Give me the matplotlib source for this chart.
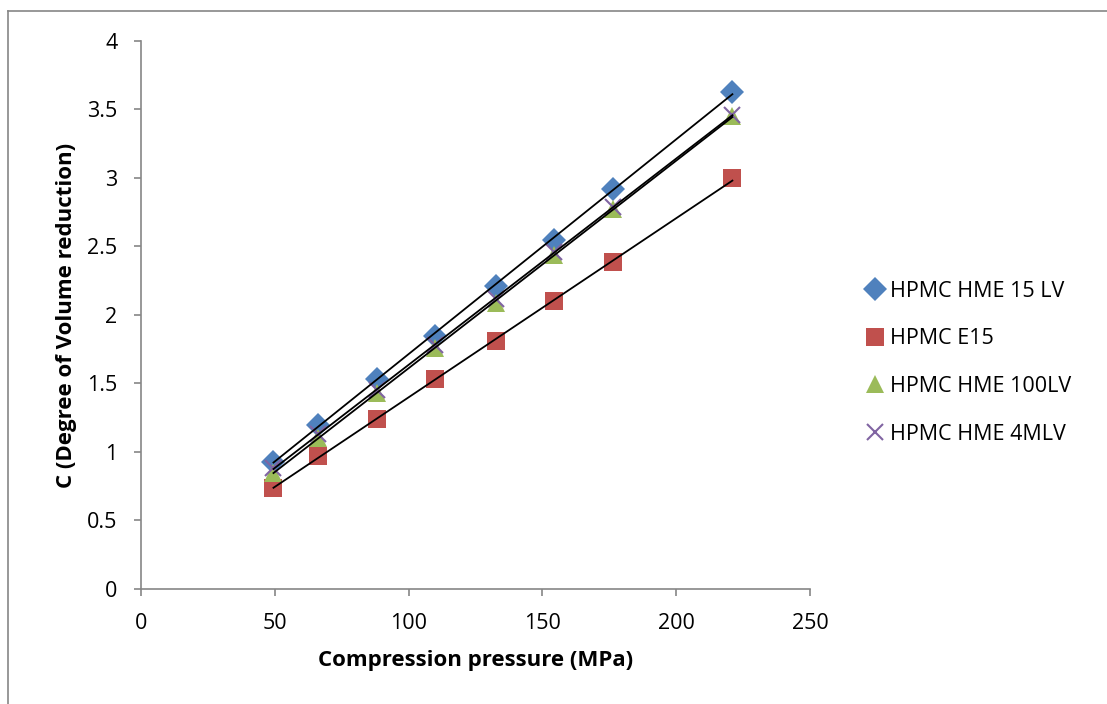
import numpy as np
import matplotlib
matplotlib.use("Agg")
import matplotlib.pyplot as plt
from matplotlib.lines import Line2D

plt.rcParams["font.family"] = ["Open Sans", "DejaVu Sans"]

# compression pressure (MPa)
pressure = [49.5, 66, 88, 110, 132.5, 154.5, 176.5, 221]

hme_15lv = [0.93, 1.20, 1.53, 1.85, 2.21, 2.55, 2.92, 3.63]
e15 = [0.74, 0.97, 1.24, 1.53, 1.81, 2.10, 2.39, 3.00]
hme_100lv = [0.85, 1.10, 1.43, 1.76, 2.09, 2.44, 2.77, 3.45]
hme_4mlv = [0.88, 1.13, 1.45, 1.78, 2.12, 2.46, 2.79, 3.46]

series = [
    ("HPMC HME 15 LV", hme_15lv, "D", "#4F81BD", 12),
    ("HPMC E15", e15, "s", "#C0504D", 13.5),
    ("HPMC HME 100LV", hme_100lv, "^", "#9BBB59", 13),
    ("HPMC HME 4MLV", hme_4mlv, "x", "#8064A2", 11),
]

fig = plt.figure(figsize=(11.07, 7.04), dpi=100)
ax = fig.add_axes([0.1274, 0.1634, 0.6043, 0.7784])

x = np.array(pressure)
for name, ys, mk, col, ms in series:
    if mk == "x":
        ax.plot(x, ys, linestyle="none", marker=mk, color=col, markersize=ms,
                markeredgewidth=1.5, label=name, zorder=3)
    else:
        ax.plot(x, ys, linestyle="none", marker=mk, color=col, markersize=ms,
                markeredgewidth=0, label=name, zorder=3)

# linear trendlines (Excel style)
for name, ys, mk, col, ms in series:
    k, b = np.polyfit(x, ys, 1)
    xx = np.array([x.min(), x.max()])
    ax.plot(xx, k * xx + b, color="black", linewidth=1.3, zorder=4)

ax.set_xlim(0, 250)
ax.set_ylim(0, 4)
ax.set_xticks(np.arange(0, 251, 50))
ax.set_yticks(np.arange(0, 4.01, 0.5))
ax.set_yticklabels(["0", "0.5", "1", "1.5", "2", "2.5", "3", "3.5", "4"])

for s in ["top", "right"]:
    ax.spines[s].set_visible(False)
for s in ["left", "bottom"]:
    ax.spines[s].set_color("#868686")
    ax.spines[s].set_linewidth(1.2)
ax.tick_params(direction="out", length=5, width=1.2, color="#868686",
               labelsize=15.5)
ax.tick_params(axis="y", pad=12)
ax.tick_params(axis="x", pad=12)

ax.set_xlabel("Compression pressure (MPa)", fontsize=16, fontweight="bold", labelpad=12)
ax.set_ylabel("C (Degree of Volume reduction)", fontsize=16, fontweight="bold", labelpad=7)

ax.legend(loc="center left", bbox_to_anchor=(1.065, 0.413), frameon=False,
          fontsize=15.5, handletextpad=0.1, handlelength=1.2, labelspacing=1.24,
          borderaxespad=0)

# outer chart frame (partially cropped in the reference)
W, H = 1107, 704
fig.add_artist(Line2D([8 / W, 8 / W], [0, 1 - 11 / H], transform=fig.transFigure,
                      color="#868686", linewidth=1.2))
fig.add_artist(Line2D([8 / W, 1], [1 - 11 / H, 1 - 11 / H], transform=fig.transFigure,
                      color="#868686", linewidth=1.2))

fig.savefig("out.png", dpi=100)
